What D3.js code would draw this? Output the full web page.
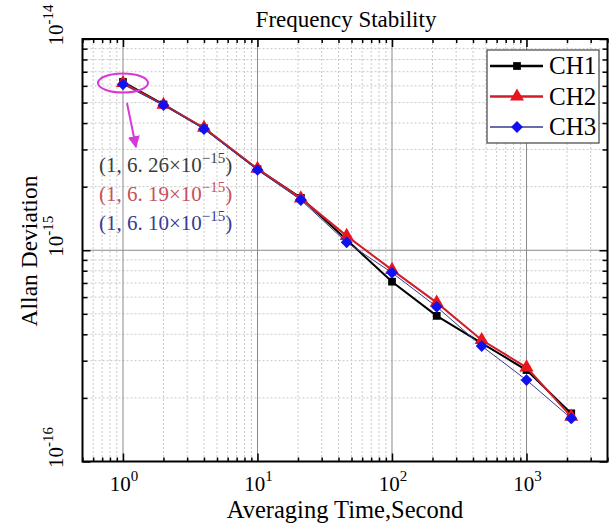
<!DOCTYPE html>
<html>
<head>
<meta charset="utf-8">
<script src="https://cdn.jsdelivr.net/npm/d3@7"></script>
<style>
  body { margin: 0; background: #fff; }
  svg text { font-family: "Liberation Serif", "Times New Roman", "DejaVu Serif", serif; }
  .grid-minor line { stroke: #c8c8c8; stroke-dasharray: 2,2; stroke-width: 1; }
  .grid-major line { stroke: #8a8a8a; stroke-width: 1; }
  .axis path { display: none; }
  .axis line { stroke: #000; stroke-width: 1.5; }
</style>
</head>
<body>
<div id="chart"></div>
<script>
// averaging time (s) and Allan deviation for the three channels
const tau = [1, 2, 4, 10, 21, 46, 100, 215, 464, 1000, 2150];
const ch1 = [6.26e-15, 4.90e-15, 3.78e-15, 2.42e-15, 1.77e-15, 1.12e-15, 7.10e-16, 4.89e-16, 3.63e-16, 2.71e-16, 1.69e-16];
const ch2 = [6.19e-15, 4.88e-15, 3.80e-15, 2.43e-15, 1.76e-15, 1.17e-15, 8.07e-16, 5.65e-16, 3.76e-16, 2.79e-16, 1.63e-16];
const ch3 = [6.10e-15, 4.86e-15, 3.75e-15, 2.40e-15, 1.73e-15, 1.09e-15, 7.83e-16, 5.40e-16, 3.52e-16, 2.43e-16, 1.60e-16];

const seriesNames = ["CH1", "CH2", "CH3"];
const xMajor = [1, 10, 100, 1000];
const xExp = ["0", "1", "2", "3"];
const yMajor = [1e-16, 1e-15, 1e-14];
const yExp = ["-16", "-15", "-14"];
const notes = ["(1, 6. 26×10", "(1, 6. 19×10", "(1, 6. 10×10"];

const W = 614, H = 523;
const margin = { top: 39, right: 6.5, bottom: 61.5, left: 82.5 };
const width = W - margin.left - margin.right;
const height = H - margin.top - margin.bottom;

const svg = d3.select("#chart").append("svg")
    .attr("width", W)
    .attr("height", H);

const g = svg.append("g")
    .attr("transform", `translate(${margin.left},${margin.top})`);

const x = d3.scaleLog().domain([0.5, 4000]).range([0, width]);
const y = d3.scaleLog().domain([1e-16, 1e-14]).range([height, 0]);

// minor positions for each decade
const xMinor = [];
[0.1, 1, 10, 100, 1000].forEach(d => {
    for (let k = 2; k <= 9; k++) {
        const v = d * k;
        if (v >= 0.5 && v <= 4000) xMinor.push(v);
    }
});
const yMinor = [];
[1e-16, 1e-15].forEach(d => {
    for (let k = 2; k <= 9; k++) yMinor.push(d * k);
});

// grid
g.append("g").attr("class", "grid-minor")
    .selectAll("line").data(xMinor).join("line")
    .attr("x1", d => x(d)).attr("x2", d => x(d))
    .attr("y1", 0).attr("y2", height);
g.append("g").attr("class", "grid-minor")
    .selectAll("line").data(yMinor).join("line")
    .attr("y1", d => y(d)).attr("y2", d => y(d))
    .attr("x1", 0).attr("x2", width);
g.append("g").attr("class", "grid-major")
    .selectAll("line").data(xMajor).join("line")
    .attr("x1", d => x(d)).attr("x2", d => x(d))
    .attr("y1", 0).attr("y2", height);
g.append("g").attr("class", "grid-major")
    .selectAll("line").data(yMajor.slice(1, 2)).join("line")
    .attr("y1", d => y(d)).attr("y2", d => y(d))
    .attr("x1", 0).attr("x2", width);

// ticks pointing inward on all four sides
function ticks(axisFn, scale, values, size, transform) {
    g.append("g").attr("class", "axis")
        .attr("transform", transform)
        .call(axisFn(scale).tickValues(values).tickSize(size).tickFormat(""));
}
ticks(d3.axisBottom, x, xMajor, -8, `translate(0,${height})`);
ticks(d3.axisBottom, x, xMinor, -4, `translate(0,${height})`);
ticks(d3.axisTop, x, xMajor, -8, "translate(0,0)");
ticks(d3.axisTop, x, xMinor, -4, "translate(0,0)");
ticks(d3.axisLeft, y, yMajor, -8, "translate(0,0)");
ticks(d3.axisLeft, y, yMinor, -5, "translate(0,0)");
ticks(d3.axisRight, y, yMajor, -8, `translate(${width},0)`);
ticks(d3.axisRight, y, yMinor, -5, `translate(${width},0)`);

// tick labels with superscripts
const xl = g.append("g").selectAll("text").data(xMajor).join("text")
    .attr("x", d => x(d) + 1)
    .attr("y", height + 29)
    .attr("text-anchor", "middle")
    .style("font-size", "21px");
xl.append("tspan").text("10");
xl.append("tspan").attr("dy", -10).style("font-size", "15px").text((d, i) => xExp[i]);

const yl = g.append("g").selectAll("text").data(yMajor).join("text")
    .attr("transform", d => `translate(-20,${y(d) - 14}) rotate(-90)`)
    .attr("text-anchor", "middle")
    .style("font-size", "21px");
yl.append("tspan").text("10");
yl.append("tspan").attr("dy", -10).style("font-size", "15px").text((d, i) => yExp[i]);

// axis titles
svg.append("text")
    .attr("x", margin.left + width / 2 + 1)
    .attr("y", 27)
    .attr("text-anchor", "middle")
    .style("font-size", "23px")
    .text("Frequency Stability");

svg.append("text")
    .attr("x", 345)
    .attr("y", 518)
    .attr("text-anchor", "middle")
    .style("font-size", "24.5px")
    .text("Averaging Time,Second");

svg.append("text")
    .attr("transform", `translate(37,251) rotate(-90)`)
    .attr("text-anchor", "middle")
    .style("font-size", "23.5px")
    .text("Allan Deviation");

// series
const series = [
    { name: "CH1", values: ch1, color: "#000000", lw: 2, marker: d3.symbolSquare, msize: 60, rot: 0, lineColor: "#000000" },
    { name: "CH2", values: ch2, color: "#e8141e", lw: 2, marker: d3.symbolTriangle, msize: 85, rot: 0, lineColor: "#d01e28" },
    { name: "CH3", values: ch3, color: "#1010f0", lw: 1, marker: d3.symbolSquare, msize: 70, rot: 45, lineColor: "#3a3a90" }
];

const line = d3.line().x(d => x(d[0])).y(d => y(d[1]));

series.forEach(s => {
    const pts = tau.map((t, i) => [t, s.values[i]]);
    g.append("path")
        .datum(pts)
        .attr("fill", "none")
        .attr("stroke", s.lineColor)
        .attr("stroke-width", s.lw)
        .attr("d", line);
    g.append("g").selectAll("path").data(pts).join("path")
        .attr("transform", d => `translate(${x(d[0])},${y(d[1])}) rotate(${s.rot})`)
        .attr("d", d3.symbol().type(s.marker).size(s.msize))
        .attr("fill", s.color);
});

// frame
g.append("rect")
    .attr("width", width).attr("height", height)
    .attr("fill", "none").attr("stroke", "#000").attr("stroke-width", 2);

// legend
const legend = svg.append("g").attr("transform", "translate(487,50)");
legend.append("rect")
    .attr("width", 112).attr("height", 93)
    .attr("fill", "#fff").attr("stroke", "#444").attr("stroke-width", 1.2);
series.forEach((s, i) => {
    const ly = 16 + i * 30.5;
    legend.append("line")
        .attr("x1", 3).attr("x2", 56).attr("y1", ly).attr("y2", ly)
        .attr("stroke", s.lineColor).attr("stroke-width", s.lw + 0.5);
    legend.append("path")
        .attr("transform", `translate(30,${ly}) rotate(${s.rot})`)
        .attr("d", d3.symbol().type(s.marker).size(s.msize))
        .attr("fill", s.color);
    legend.append("text")
        .attr("x", 62).attr("y", ly + 8)
        .style("font-size", "25px")
        .text(s.name);
});

// annotation of the first point
const ann = svg.append("g");
const p0x = margin.left + x(tau[0]), p0y = margin.top + y(ch2[0]);
ann.append("ellipse")
    .attr("cx", p0x).attr("cy", p0y)
    .attr("rx", 25).attr("ry", 9.5)
    .attr("fill", "none").attr("stroke", "#d83ad8").attr("stroke-width", 2);
svg.append("defs").append("marker")
    .attr("id", "arrow").attr("viewBox", "0 0 10 10")
    .attr("refX", 9).attr("refY", 5)
    .attr("markerWidth", 6).attr("markerHeight", 6)
    .attr("orient", "auto")
    .append("path").attr("d", "M0,0L10,5L0,10Z").attr("fill", "#d83ad8");
ann.append("line")
    .attr("x1", p0x + 4).attr("y1", p0y + 20)
    .attr("x2", p0x + 13).attr("y2", p0y + 64)
    .attr("stroke", "#d83ad8").attr("stroke-width", 2)
    .attr("marker-end", "url(#arrow)");

const noteColors = ["#3c3c3c", "#c8505a", "#3a3a96"];
notes.forEach((t, i) => {
    const tx = ann.append("text")
        .attr("x", 99).attr("y", 172 + i * 29)
        .attr("fill", noteColors[i])
        .style("font-size", "21px");
    tx.append("tspan").text(t);
    tx.append("tspan").attr("dy", -9).style("font-size", "15px").text("−15");
    tx.append("tspan").attr("dy", 9).text(")");
});
</script>
</body>
</html>
